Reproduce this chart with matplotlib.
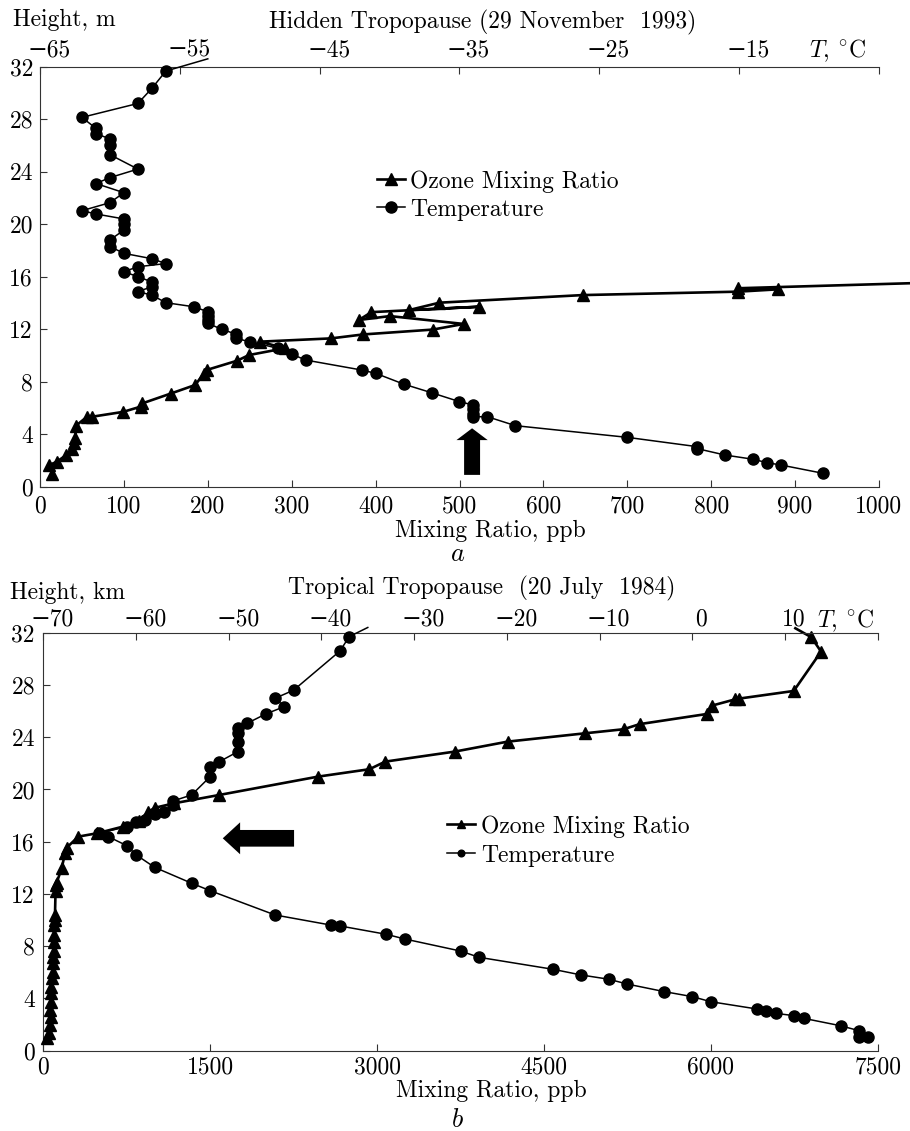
import numpy as np
import matplotlib
matplotlib.use('Agg')
import matplotlib.pyplot as plt
from matplotlib.transforms import ScaledTranslation

plt.rcParams['font.family'] = ['cmr10', 'DejaVu Serif']
plt.rcParams['mathtext.fontset'] = 'cm'
plt.rcParams['font.size'] = 17

# ---- panel a: hidden tropopause, 29 November 1993
a_ozone_ppb = [14, 11, 20, 31, 38, 40, 42, 43, 56, 62, 99, 120, 122, 156, 185, 195, 199,
               235, 249, 292, 262, 347, 385, 468, 505, 417, 380, 395, 523, 440, 476,
               647, 832, 880, 832, 1036]
a_ozone_h = [1.0, 1.65, 1.9, 2.4, 2.9, 3.3, 3.7, 4.65, 5.33, 5.33, 5.7, 6.1, 6.35, 7.1, 7.75,
             8.6, 8.9, 9.6, 10.03, 10.55, 11.05, 11.3, 11.6, 11.97, 12.4, 13.0, 12.7,
             13.3, 13.71, 13.46, 14.02, 14.6, 14.86, 15.04, 15.12, 15.5]
a_temp_c = [-53, -56, -57, -58, -62, -61, -61, -60, -60, -60, -58, -60, -61, -59, -60,
            -62, -61, -59, -59, -59, -60, -60, -59, -57, -56, -58, -59, -58, -57, -57,
            -58, -57, -56, -54, -53, -53, -53, -53, -52, -51, -51, -50, -48, -47, -46,
            -42, -41, -39, -37, -35, -34, -34, -34, -34, -33, -31, -23, -18, -18, -16,
            -14, -13, -12, -9]
a_temp_h = [32.6, 31.67, 30.35, 29.2, 28.14, 27.3, 26.9, 26.5, 26.0, 25.3, 24.2, 23.55,
            23.1, 22.4, 21.64, 21.03, 20.78, 20.4, 20.0, 19.55, 18.8, 18.3, 17.78, 17.37,
            17.0, 16.76, 16.38, 16.0, 15.6, 15.24, 14.86, 14.6, 14.02, 13.71, 13.33, 13.0,
            12.7, 12.45, 11.99, 11.63, 11.3, 11.05, 10.55, 10.1, 9.65, 8.89, 8.64, 7.82,
            7.16, 6.48, 6.22, 5.9, 5.55, 5.33, 5.33, 4.65, 3.76, 3.05, 2.9, 2.41, 2.09,
            1.83, 1.65, 1.02]
a_ppb_ticks = [0, 100, 200, 300, 400, 500, 600, 700, 800, 900, 1000]
a_t_ticks = [-65, -55, -45, -35, -25, -15, -5]
a_t_labels = ['\u221265', '\u221255', '\u221245', '\u221235', '\u221225', '\u221215', '']

# ---- panel b: tropical tropopause, 20 July 1984
b_ozone_ppb = [6760, 6904, 6991, 6745, 6250, 6220, 6011, 5966, 5360, 5216, 4871, 4173,
               3700, 3073, 2932, 2468, 1583, 1175, 1005, 944, 863, 714, 486, 315, 210,
               195, 165, 120, 114, 110, 105, 105, 100, 95, 95, 100, 90, 85, 85, 75, 70,
               65, 65, 60, 70, 60, 55, 35]
b_ozone_h = [32.34, 31.65, 30.55, 27.54, 26.95, 26.9, 26.42, 25.78, 25.0, 24.61, 24.3,
             23.66, 22.9, 22.13, 21.55, 20.98, 19.58, 18.94, 18.6, 18.3, 17.61, 17.15,
             16.65, 16.39, 15.54, 15.1, 13.96, 12.86, 12.7, 12.2, 10.39, 10.0, 9.6, 8.85,
             8.35, 7.6, 7.2, 6.69, 6.05, 5.54, 4.9, 4.39, 3.75, 3.12, 2.6, 1.97, 1.33, 0.95]
b_temp_c = [-35, -37, -38, -43, -45, -44, -46, -48, -49, -49, -49, -49, -51, -52, -52,
            -54, -56, -56, -57, -58, -59, -60, -61, -64, -63, -61, -60, -58, -54, -52,
            -45, -39, -38, -33, -31, -25, -23, -15, -12, -9, -7, -3, 0, 2, 7, 8, 9, 11,
            12, 16, 18, 18, 19]
b_temp_h = [32.4, 31.7, 30.6, 27.6, 26.98, 26.34, 25.78, 25.07, 24.68, 24.3, 23.66, 22.9,
            22.13, 21.75, 20.98, 19.58, 19.12, 18.8, 18.3, 18.1, 17.66, 17.5, 17.15, 16.65,
            16.39, 15.7, 15.0, 14.04, 12.82, 12.25, 10.39, 9.62, 9.55, 8.91, 8.55, 7.63,
            7.15, 6.23, 5.8, 5.47, 5.1, 4.52, 4.14, 3.75, 3.19, 3.04, 2.86, 2.68, 2.48,
            1.91, 1.53, 1.02, 1.07]
b_ppb_ticks = [0, 1500, 3000, 4500, 6000, 7500]
b_t_ticks = [-70, -60, -50, -40, -30, -20, -10, 0, 10, 20]
b_t_labels = ['\u221270', '\u221260', '\u221250', '\u221240', '\u221230', '\u221220',
              '\u221210', '0', '10', '']
h_ticks = [0, 4, 8, 12, 16, 20, 24, 28, 32]

W, H = 910, 1131
fig = plt.figure(figsize=(W / 100, H / 100), dpi=100)
FS = 17


def px(x, y):
    return x / W, 1 - y / H


def panel(rect, ozone_x, ozone_h, temp_x, temp_h, ppb_ticks, t_ticks, t_labels,
          oz_mark, temp_mark, ppb_pad, t_pad, y_pad):
    ax = fig.add_axes(rect)
    ax2 = ax.twiny()
    spine_col = '#333333'
    for s in ['top', 'right']:
        ax.spines[s].set_visible(False)
    for s in ['bottom', 'left', 'right']:
        ax2.spines[s].set_visible(False)
    for s in ['bottom', 'left']:
        ax.spines[s].set_color(spine_col)
    ax2.spines['top'].set_color(spine_col)

    l1, = ax.plot(ozone_x, ozone_h, color='black', lw=1.9, marker='^', ms=9,
                  clip_on=False, markevery=oz_mark, zorder=3)
    l2, = ax2.plot(temp_x, temp_h, color='black', lw=1.1, marker='o', ms=8,
                   clip_on=False, markevery=temp_mark, zorder=3)

    ax.set_xlim(ppb_ticks[0], ppb_ticks[-1])
    ax.set_ylim(0, 32)
    ax2.set_xlim(t_ticks[0], t_ticks[-1])
    ax.set_xticks(ppb_ticks)
    ax.set_xticklabels([str(v) for v in ppb_ticks])
    ax.set_yticks(h_ticks)
    ax2.set_xticks(t_ticks)
    ax2.set_xticklabels(t_labels)
    ax.tick_params(axis='x', direction='in', length=5, pad=ppb_pad, labelsize=FS,
                   color=spine_col)
    ax.tick_params(axis='y', direction='in', length=5, pad=y_pad, labelsize=FS,
                   color=spine_col)
    ax2.tick_params(axis='x', direction='in', length=5, pad=t_pad, labelsize=FS,
                    color=spine_col)
    shift = ScaledTranslation(0.09, 0, fig.dpi_scale_trans)
    for lab in ax2.get_xticklabels():
        lab.set_transform(lab.get_transform() + shift)
    return ax, ax2, l1, l2


# panel a
ax, ax2, l1, l2 = panel([40 / W, 1 - 486.7 / H, 839 / W, 420 / H],
                        a_ozone_ppb, a_ozone_h, a_temp_c, a_temp_h,
                        a_ppb_ticks, a_t_ticks, a_t_labels,
                        slice(0, -1), slice(1, None), 6, 4, 5)
ax2.legend([l1, l2], ['Ozone Mixing Ratio', 'Temperature'], loc='upper left',
           bbox_to_anchor=px(377, 170), bbox_transform=fig.transFigure,
           frameon=False, handlelength=1.2, handletextpad=0.2, borderpad=0,
           borderaxespad=0, labelspacing=0.25, fontsize=FS)
ax.annotate('', xy=(515, 4.45), xytext=(515, 0.9),
            arrowprops=dict(arrowstyle='simple,head_length=0.85,head_width=2.25,tail_width=1.15',
                            fc='black', ec='none', shrinkA=0, shrinkB=0,
                            mutation_scale=10))
fig.text(*px(13, 20), 'Height, m', ha='left', va='center')
fig.text(*px(483, 22), 'Hidden Tropopause (29 November  1993)', ha='center', va='center')
fig.text(*px(837, 51), '$T$, $^{\\circ}$C', ha='center', va='center')
fig.text(*px(490, 531), 'Mixing Ratio, ppb', ha='center', va='center')
fig.text(*px(458, 554), '$a$', ha='center', va='center', fontsize=19)

# panel b
bx, bx2, m1, m2 = panel([43.3 / W, 1 - 1050.7 / H, 834.4 / W, 418 / H],
                        b_ozone_ppb, b_ozone_h, b_temp_c, b_temp_h,
                        b_ppb_ticks, b_t_ticks, b_t_labels,
                        slice(1, None), slice(1, None), 4, 1.5, 6)
bx2.legend([m1, m2], ['Ozone Mixing Ratio', 'Temperature'], loc='upper left',
           bbox_to_anchor=px(447, 815), bbox_transform=fig.transFigure,
           frameon=False, handlelength=1.2, handletextpad=0.25, borderpad=0,
           borderaxespad=0, labelspacing=0.3, fontsize=FS, markerscale=0.6)
bx.annotate('', xy=(1613, 16.26), xytext=(2254, 16.26),
            arrowprops=dict(arrowstyle='simple,head_length=1.25,head_width=2.3,tail_width=1.2',
                            fc='black', ec='none', shrinkA=0, shrinkB=0,
                            mutation_scale=10))
fig.text(*px(10, 593), 'Height, km', ha='left', va='center')
fig.text(*px(482, 588), 'Tropical Tropopause  (20 July  1984)', ha='center', va='center')
fig.text(*px(845, 621), '$T$, $^{\\circ}$C', ha='center', va='center')
fig.text(*px(491, 1091), 'Mixing Ratio, ppb', ha='center', va='center')
fig.text(*px(457, 1120), '$b$', ha='center', va='center', fontsize=19)

fig.savefig('out.png', dpi=100)
